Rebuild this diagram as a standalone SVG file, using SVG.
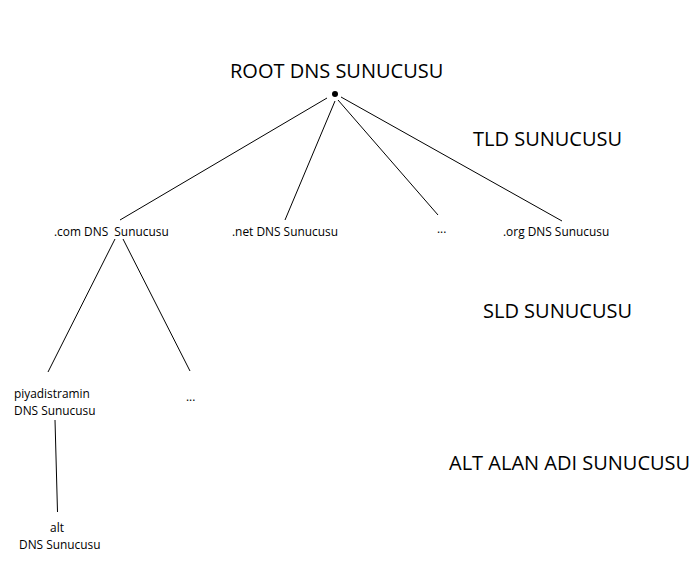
<svg xmlns="http://www.w3.org/2000/svg" width="700" height="563" viewBox="0 0 700 563">
<style>
text{font-family:"Open Sans","Noto Sans",sans-serif;fill:#000}
.big{font-size:20px}
.sm{font-size:11.9px}
.ln{stroke:#000;stroke-width:1;fill:none}
</style>
<rect width="700" height="563" fill="#fff"/>
<g id="connectors">
<line class="ln" x1="327" y1="98" x2="120" y2="220"/>
<line class="ln" x1="335" y1="101" x2="285" y2="220"/>
<line class="ln" x1="338" y1="100" x2="438" y2="215"/>
<line class="ln" x1="341" y1="97" x2="562" y2="221"/>
<line class="ln" x1="115" y1="239" x2="48" y2="372"/>
<line class="ln" x1="123" y1="239" x2="190" y2="371"/>
<line class="ln" x1="55" y1="420" x2="57.5" y2="512"/>
</g>
<g id="root"><text class="big" x="230" y="78">ROOT DNS SUNUCUSU</text><circle cx="335" cy="94" r="3" fill="#000"/></g>
<g id="tld-label"><text class="big" x="473" y="146">TLD SUNUCUSU</text></g>
<g id="sld-label"><text class="big" x="483" y="318">SLD SUNUCUSU</text></g>
<g id="alt-label"><text class="big" x="449" y="470">ALT ALAN ADI SUNUCUSU</text></g>
<g id="com"><text class="sm" x="54" y="236" xml:space="preserve">.com DNS  Sunucusu</text></g>
<g id="net"><text class="sm" x="232" y="236">.net DNS Sunucusu</text></g>
<g id="dots1"><text class="sm" x="437" y="233">...</text></g>
<g id="org"><text class="sm" x="503" y="236">.org DNS Sunucusu</text></g>
<g id="piyadistramin"><text class="sm" x="14" y="398">piyadistramin</text><text class="sm" x="14" y="415">DNS Sunucusu</text></g>
<g id="dots2"><text class="sm" x="186" y="401">...</text></g>
<g id="alt"><text class="sm" x="57" y="532" text-anchor="middle">alt</text><text class="sm" x="19" y="549">DNS Sunucusu</text></g>
</svg>
